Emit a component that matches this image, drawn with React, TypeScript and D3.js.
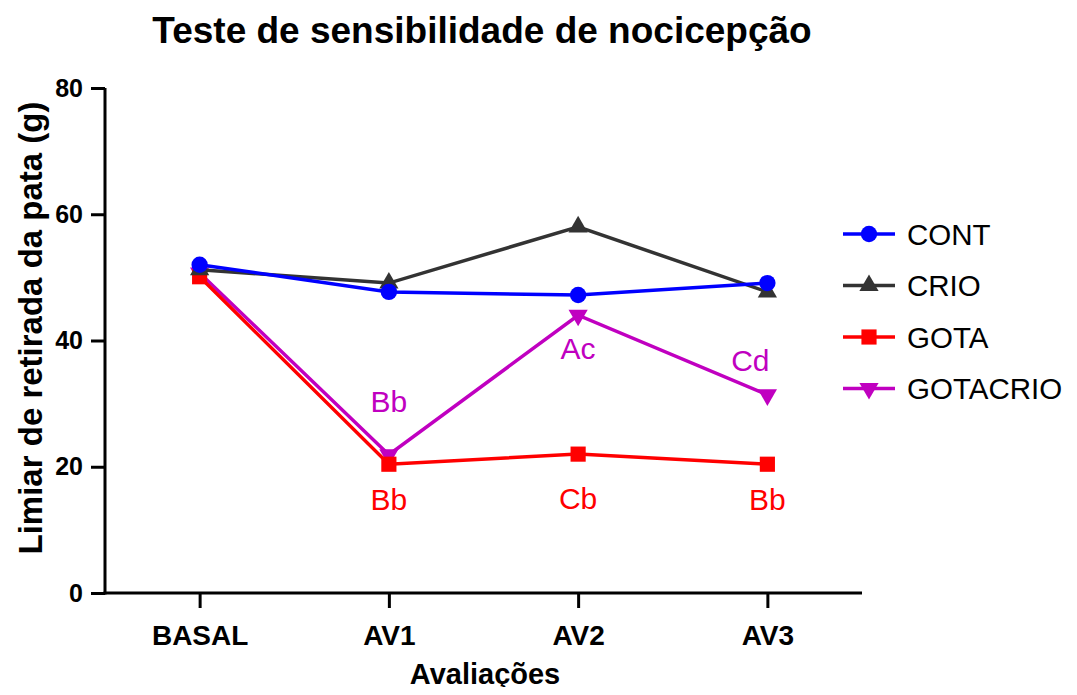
import React, { useEffect, useRef } from 'react';
import * as d3 from 'd3';

const categories = ['BASAL', 'AV1', 'AV2', 'AV3'];
const yTicks = [0, 20, 40, 60, 80];

const contValues = [52, 47.7, 47.2, 49.1];
const crioValues = [51.2, 49.1, 58, 47.7];
const gotaValues = [50.1, 20.4, 22, 20.4];
const gotacrioValues = [50.7, 21.9, 44, 31.4];

const gotaLabels = ['', 'Bb', 'Cb', 'Bb'];
const gotacrioLabels = ['', 'Bb', 'Ac', 'Cd'];

const seriesNames = ['CONT', 'CRIO', 'GOTA', 'GOTACRIO'];

const font = 'Liberation Sans, Arial, Helvetica, sans-serif';

function App() {
  const ref = useRef<SVGSVGElement>(null);

  useEffect(() => {
    const width = 1077, height = 695;
    const svg = d3.select(ref.current);
    svg.selectAll('*').remove();
    svg.attr('width', width).attr('height', height);

    const x = d3.scalePoint<string>()
      .domain(categories)
      .range([105, 862])
      .padding(0.5);

    const y = d3.scaleLinear().domain([0, 80]).range([593, 88]);

    const series = [
      { name: seriesNames[0], values: contValues, color: '#0000ff', symbol: d3.symbolCircle, size: 210, rot: 0 },
      { name: seriesNames[1], values: crioValues, color: '#333333', symbol: d3.symbolTriangle, size: 160, rot: 0 },
      { name: seriesNames[2], values: gotaValues, color: '#ff0000', symbol: d3.symbolSquare, size: 230, rot: 0 },
      { name: seriesNames[3], values: gotacrioValues, color: '#c000c0', symbol: d3.symbolTriangle, size: 160, rot: 180 },
    ];

    // axes
    const yAxis = svg.append('g')
      .attr('transform', 'translate(105,0)')
      .call(d3.axisLeft(y).tickValues(yTicks).tickSize(14).tickPadding(8));
    yAxis.select('.domain').attr('stroke-width', 3).attr('d', 'M0,88V594.5');
    yAxis.selectAll('.tick line').attr('stroke-width', 3);
    yAxis.selectAll('text')
      .style('font-family', font).style('font-size', '25px').style('font-weight', 'bold').attr('fill', '#000');

    const xAxis = svg.append('g')
      .attr('transform', 'translate(0,593)')
      .call(d3.axisBottom(x).tickSize(15).tickPadding(17));
    xAxis.select('.domain').attr('stroke-width', 3).attr('d', 'M103.5,0H862');
    xAxis.selectAll('.tick line').attr('stroke-width', 3);
    xAxis.selectAll('text')
      .style('font-family', font).style('font-size', '28px').style('font-weight', 'bold').attr('fill', '#000');

    const line = d3.line<number>()
      .x((d, i) => x(categories[i])!)
      .y(d => y(d));

    // draw in reverse so CONT ends on top
    [...series].reverse().forEach(s => {
      svg.append('path')
        .datum(s.values)
        .attr('d', line)
        .attr('fill', 'none')
        .attr('stroke', s.color)
        .attr('stroke-width', 3.5);
      svg.append('g').selectAll('path')
        .data(s.values)
        .join('path')
        .attr('d', d3.symbol().type(s.symbol).size(s.size)())
        .attr('transform', (d, i) => `translate(${x(categories[i])},${y(d)}) rotate(${s.rot})`)
        .attr('fill', s.color);
    });

    // significance letters
    const gOffset = [0, 46, 55, 46];
    svg.append('g').selectAll('text')
      .data(categories)
      .join('text')
      .attr('x', d => x(d)!)
      .attr('y', (d, i) => y(gotaValues[i]) + gOffset[i])
      .attr('text-anchor', 'middle')
      .style('font-family', font).style('font-size', '30px')
      .attr('fill', '#ff0000')
      .text((d, i) => gotaLabels[i]);

    const gcOffset = [0, -43, 44, -24];
    const gcDx = [0, 0, 0, -17];
    svg.append('g').selectAll('text')
      .data(categories)
      .join('text')
      .attr('x', (d, i) => x(d)! + gcDx[i])
      .attr('y', (d, i) => y(gotacrioValues[i]) + gcOffset[i])
      .attr('text-anchor', 'middle')
      .style('font-family', font).style('font-size', '30px')
      .attr('fill', '#c000c0')
      .text((d, i) => gotacrioLabels[i]);

    // legend
    series.forEach((s, i) => {
      const ly = 234 + i * 51.5;
      const g = svg.append('g').attr('transform', `translate(0,${ly})`);
      g.append('line').attr('x1', 843).attr('x2', 895).attr('y1', 0).attr('y2', 0)
        .attr('stroke', s.color).attr('stroke-width', 3.5);
      g.append('path')
        .attr('d', d3.symbol().type(s.symbol).size(s.size)())
        .attr('transform', `translate(869,0) rotate(${s.rot})`)
        .attr('fill', s.color);
      g.append('text')
        .attr('x', 907).attr('y', 0).attr('dy', '0.36em')
        .style('font-family', font).style('font-size', '29.5px')
        .attr('fill', '#000')
        .text(s.name);
    });

    // titles
    svg.append('text')
      .attr('x', 482).attr('y', 43)
      .attr('text-anchor', 'middle')
      .style('font-family', font).style('font-size', '37px').style('font-weight', 'bold')
      .text('Teste de sensibilidade de nocicepção');

    svg.append('text')
      .attr('x', 485).attr('y', 684)
      .attr('text-anchor', 'middle')
      .style('font-family', font).style('font-size', '29px').style('font-weight', 'bold')
      .text('Avaliações');

    svg.append('text')
      .attr('transform', 'translate(42,328) rotate(-90)')
      .attr('text-anchor', 'middle')
      .style('font-family', font).style('font-size', '33px').style('font-weight', 'bold')
      .text('Limiar de retirada da pata (g)');
  }, []);

  return (
    <div style={{ margin: -8 }}>
      <svg ref={ref} style={{ display: 'block' }}></svg>
    </div>
  );
}

export default App;
